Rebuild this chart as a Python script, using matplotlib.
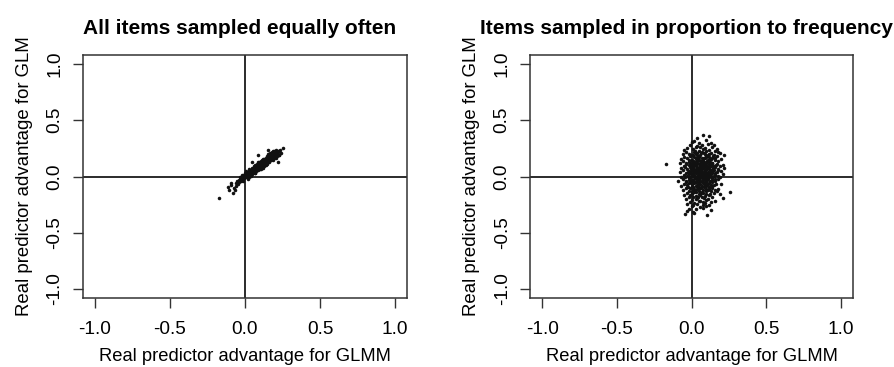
import matplotlib
matplotlib.use('Agg')
import matplotlib.pyplot as plt

plt.rcParams['font.family'] = ['Liberation Sans', 'DejaVu Sans']
plt.rcParams['axes.unicode_minus'] = False

titles = ["All items sampled equally often", "Items sampled in proportion to frequency"]
xlabel = "Real predictor advantage for GLMM"
ylabel = "Real predictor advantage for GLM"
tick_values = [-1.0, -0.5, 0.0, 0.5, 1.0]
tick_labels = ["-1.0", "-0.5", "0.0", "0.5", "1.0"]

# Panel 1: items sampled equally often (x = GLMM advantage, y = GLM advantage)
equal_points = [
    (-0.170, -0.188), (-0.112, -0.092), (-0.104, -0.118), (-0.082, -0.150), (-0.090, -0.071),
    (-0.075, -0.098), (-0.063, -0.055), (-0.058, -0.082), (-0.051, -0.040), (-0.046, -0.066),
    (-0.041, -0.031), (-0.037, -0.052), (-0.033, -0.018), (-0.029, -0.041), (-0.026, -0.012),
    (-0.022, -0.030), (-0.019, -0.005), (-0.016, -0.024), (-0.013, 0.004), (-0.011, -0.017),
    (-0.008, 0.010), (-0.006, -0.009), (-0.003, 0.015), (-0.001, -0.004), (0.002, 0.021),
    (0.004, 0.001), (0.006, 0.013), (0.008, -0.006), (0.010, 0.024), (0.012, 0.008),
    (0.014, 0.031), (0.016, 0.012), (0.018, 0.002), (0.020, 0.027), (0.022, 0.017),
    (0.024, 0.038), (0.026, 0.009), (0.028, 0.024), (0.030, 0.045), (0.032, 0.019),
    (0.034, 0.033), (0.036, 0.052), (0.038, 0.026), (0.040, 0.041), (0.042, 0.018),
    (0.044, 0.057), (0.046, 0.035), (0.048, 0.048), (0.050, 0.069), (0.052, 0.029),
    (0.054, 0.053), (0.056, 0.041), (0.058, 0.074), (0.060, 0.060), (0.062, 0.038),
    (0.064, 0.082), (0.066, 0.051), (0.068, 0.067), (0.070, 0.046), (0.072, 0.089),
    (0.074, 0.063), (0.076, 0.077), (0.078, 0.055), (0.080, 0.101), (0.082, 0.072),
    (0.084, 0.086), (0.086, 0.062), (0.088, 0.094), (0.090, 0.079), (0.092, 0.113),
    (0.094, 0.070), (0.096, 0.098), (0.098, 0.085), (0.100, 0.121), (0.102, 0.077),
    (0.104, 0.106), (0.106, 0.094), (0.108, 0.131), (0.110, 0.088), (0.112, 0.112),
    (0.114, 0.101), (0.116, 0.139), (0.118, 0.096), (0.120, 0.124), (0.122, 0.108),
    (0.124, 0.150), (0.126, 0.103), (0.128, 0.131), (0.130, 0.117), (0.132, 0.158),
    (0.134, 0.112), (0.136, 0.140), (0.138, 0.126), (0.140, 0.166), (0.142, 0.119),
    (0.144, 0.149), (0.146, 0.134), (0.148, 0.171), (0.150, 0.127), (0.152, 0.155),
    (0.154, 0.142), (0.156, 0.178), (0.158, 0.135), (0.160, 0.163), (0.162, 0.149),
    (0.164, 0.184), (0.166, 0.143), (0.168, 0.170), (0.170, 0.156), (0.172, 0.190),
    (0.174, 0.151), (0.176, 0.177), (0.178, 0.164), (0.180, 0.196), (0.182, 0.158),
    (0.184, 0.183), (0.186, 0.171), (0.188, 0.201), (0.190, 0.165), (0.192, 0.189),
    (0.194, 0.206), (0.196, 0.176), (0.198, 0.194), (0.200, 0.212), (0.203, 0.183),
    (0.206, 0.200), (0.209, 0.218), (0.212, 0.192), (0.215, 0.207), (0.218, 0.224),
    (0.222, 0.214), (0.226, 0.231), (0.232, 0.236), (0.255, 0.250),
    (0.005, 0.007), (0.015, 0.020), (0.025, 0.029), (0.035, 0.040), (0.045, 0.046),
    (0.055, 0.062), (0.065, 0.070), (0.075, 0.083), (0.085, 0.091), (0.095, 0.104),
    (0.105, 0.112), (0.115, 0.120), (0.125, 0.128), (0.135, 0.146), (0.145, 0.153),
    (0.155, 0.160), (0.165, 0.175), (0.175, 0.182), (0.185, 0.190), (0.195, 0.201),
    (0.205, 0.208),
    (0.050, 0.130), (0.090, 0.190), (0.155, 0.235), (0.220, 0.130), (0.210, 0.165),
    (0.120, 0.075), (-0.067, -0.120), (-0.095, -0.060), (0.185, 0.225), (0.240, 0.210),
    (0.030, 0.065), (0.070, 0.035), (0.060, 0.095), (0.100, 0.065), (0.090, 0.125),
    (0.130, 0.095), (0.120, 0.155), (0.160, 0.125), (0.150, 0.185), (0.190, 0.155),
    (0.180, 0.215), (0.215, 0.185), (0.000, 0.035), (0.040, 0.005), (0.020, -0.020),
    (-0.020, 0.010), (0.110, 0.140), (0.140, 0.105), (0.170, 0.200), (0.200, 0.170),
    (0.080, 0.110), (0.050, 0.020), (0.165, 0.195), (0.195, 0.225), (0.225, 0.195),
    (0.010, 0.045), (0.030, -0.005), (0.045, 0.080), (0.065, 0.030), (0.085, 0.115),
    (0.105, 0.070), (0.125, 0.160), (0.145, 0.110), (0.165, 0.205), (0.185, 0.150),
    (0.205, 0.235), (0.225, 0.190), (-0.030, 0.000), (-0.010, -0.040), (0.115, 0.150),
    (0.135, 0.100), (0.175, 0.210), (0.195, 0.165), (0.095, 0.130), (0.075, 0.045),
    (0.155, 0.200), (0.160, 0.135), (0.070, 0.100), (0.110, 0.085),
]

# Panel 2: items sampled in proportion to frequency
prop_points = [
    (0.080, 0.368), (0.120, 0.356), (0.035, 0.340),
    (0.020, 0.318), (0.100, 0.326), (0.050, 0.302), (0.130, 0.297), (0.000, 0.306),
    (-0.010, 0.284), (0.070, 0.277), (0.110, 0.289), (0.040, 0.272), (0.150, 0.281),
    (0.030, 0.262), (0.090, 0.255), (0.140, 0.266), (-0.030, 0.251), (0.060, 0.259), (0.170, 0.248),
    (-0.050, 0.236), (0.010, 0.243), (0.050, 0.231), (0.080, 0.245), (0.120, 0.238), (0.160, 0.229),
    (0.025, 0.227),
    (-0.040, 0.214), (0.020, 0.222), (0.040, 0.209), (0.070, 0.218), (0.100, 0.225), (0.130, 0.211),
    (0.180, 0.219), (0.085, 0.205),
    (-0.060, 0.196), (-0.020, 0.203), (0.010, 0.189), (0.030, 0.198), (0.060, 0.192), (0.090, 0.201),
    (0.110, 0.187), (0.150, 0.195), (0.190, 0.205), (0.045, 0.184),
    (-0.050, 0.176), (-0.010, 0.181), (0.020, 0.172), (0.050, 0.178), (0.070, 0.169), (0.100, 0.183),
    (0.120, 0.174), (0.140, 0.166), (0.170, 0.179), (0.220, 0.188), (0.085, 0.161),
    (-0.070, 0.156), (-0.030, 0.162), (0.000, 0.151), (0.030, 0.158), (0.050, 0.146), (0.080, 0.155),
    (0.090, 0.163), (0.110, 0.149), (0.130, 0.157), (0.160, 0.144), (0.200, 0.152), (0.065, 0.139),
    (-0.060, 0.137), (-0.020, 0.131), (0.010, 0.142), (0.020, 0.128), (0.040, 0.135), (0.060, 0.124),
    (0.080, 0.138), (0.100, 0.127), (0.120, 0.133), (0.140, 0.121), (0.180, 0.136), (0.095, 0.117),
    (0.035, 0.118),
    (-0.080, 0.116), (-0.040, 0.109), (-0.010, 0.121), (0.010, 0.113), (0.030, 0.104), (0.050, 0.115),
    (0.070, 0.107), (0.090, 0.119), (0.100, 0.102), (0.120, 0.111), (0.150, 0.098), (0.170, 0.114),
    (0.210, 0.106), (0.062, 0.096), (0.138, 0.120),
    (-0.170, 0.108), (-0.050, 0.093), (-0.020, 0.099), (0.000, 0.089), (0.020, 0.097), (0.040, 0.086),
    (0.060, 0.094), (0.080, 0.084), (0.090, 0.096), (0.110, 0.088), (0.130, 0.092), (0.160, 0.083),
    (0.190, 0.095), (0.072, 0.076), (0.103, 0.071), (0.118, 0.079),
    (-0.070, 0.077), (-0.030, 0.071), (-0.010, 0.082), (0.010, 0.074), (0.030, 0.066), (0.050, 0.079),
    (0.070, 0.063), (0.080, 0.072), (0.100, 0.065), (0.120, 0.074), (0.140, 0.061), (0.180, 0.068),
    (0.220, 0.078), (0.088, 0.056), (0.045, 0.058), (0.128, 0.052),
    (-0.060, 0.057), (-0.020, 0.051), (0.000, 0.062), (0.020, 0.054), (0.040, 0.046), (0.060, 0.055),
    (0.070, 0.043), (0.090, 0.050), (0.110, 0.041), (0.130, 0.049), (0.150, 0.056), (0.200, 0.045),
    (0.078, 0.034), (0.102, 0.031), (0.015, 0.037),
    (-0.080, 0.036), (-0.040, 0.031), (-0.010, 0.042), (0.010, 0.027), (0.030, 0.035), (0.050, 0.024),
    (0.060, 0.038), (0.080, 0.026), (0.100, 0.033), (0.120, 0.022), (0.140, 0.030), (0.170, 0.039),
    (0.092, 0.014), (0.058, 0.012), (0.115, 0.008),
    (-0.050, 0.016), (-0.020, 0.023), (0.000, 0.011), (0.020, 0.018), (0.040, 0.006), (0.050, 0.019),
    (0.070, 0.009), (0.090, 0.024), (0.110, 0.017), (0.130, 0.005), (0.160, 0.014), (0.210, 0.021),
    (0.068, -0.004), (0.125, 0.027),
    (-0.070, -0.004), (-0.030, 0.003), (-0.010, -0.008), (0.010, 0.002), (0.030, -0.011), (0.050, -0.002),
    (0.070, 0.007), (0.080, -0.009), (0.100, 0.000), (0.120, -0.006), (0.150, 0.004), (0.190, -0.003),
    (0.042, -0.019), (0.094, -0.017),
    (-0.060, -0.023), (-0.020, -0.017), (0.000, -0.028), (0.020, -0.021), (0.040, -0.031), (0.060, -0.015),
    (0.080, -0.026), (0.090, -0.034), (0.110, -0.022), (0.140, -0.029), (0.180, -0.018), (0.058, -0.038),
    (0.122, -0.041),
    (-0.090, -0.044), (-0.040, -0.037), (-0.010, -0.048), (0.010, -0.041), (0.030, -0.052), (0.050, -0.045),
    (0.070, -0.036), (0.100, -0.049), (0.120, -0.057), (0.160, -0.043), (0.085, -0.061),
    (-0.050, -0.064), (-0.020, -0.058), (0.000, -0.069), (0.020, -0.061), (0.040, -0.072), (0.060, -0.066),
    (0.080, -0.055), (0.110, -0.068), (0.130, -0.077), (0.200, -0.063), (0.095, -0.083),
    (-0.070, -0.084), (-0.030, -0.078), (0.010, -0.089), (0.030, -0.082), (0.050, -0.093), (0.070, -0.087),
    (0.090, -0.076), (0.120, -0.091), (0.150, -0.079), (0.065, -0.103),
    (-0.040, -0.104), (-0.010, -0.098), (0.020, -0.109), (0.040, -0.113), (0.060, -0.101), (0.080, -0.116),
    (0.100, -0.107), (0.140, -0.099), (0.180, -0.112),
    (-0.060, -0.124), (-0.020, -0.131), (0.010, -0.119), (0.030, -0.136), (0.050, -0.127), (0.070, -0.139),
    (0.110, -0.122), (0.130, -0.133), (0.170, -0.126),
    (-0.030, -0.144), (0.000, -0.152), (0.020, -0.141), (0.050, -0.156), (0.080, -0.147), (0.100, -0.158),
    (0.150, -0.143), (0.260, -0.140),
    (-0.050, -0.166), (-0.010, -0.161), (0.030, -0.172), (0.060, -0.164), (0.090, -0.177), (0.120, -0.168),
    (0.190, -0.159),
    (-0.020, -0.186), (0.010, -0.181), (0.040, -0.193), (0.070, -0.184), (0.110, -0.197), (0.140, -0.179),
    (0.210, -0.191),
    (-0.040, -0.204), (0.000, -0.211), (0.030, -0.199), (0.060, -0.216), (0.100, -0.207), (0.160, -0.214),
    (-0.010, -0.226), (0.020, -0.231), (0.050, -0.222), (0.090, -0.236), (0.130, -0.228),
    (-0.030, -0.247), (0.010, -0.253), (0.040, -0.241), (0.080, -0.256), (0.120, -0.249),
    (0.000, -0.266), (0.060, -0.272), (0.100, -0.262),
    (-0.020, -0.287), (0.030, -0.293), (0.080, -0.281),
    (-0.030, -0.305), (0.010, -0.312), (0.130, -0.301),
    (-0.045, -0.331), (0.020, -0.324), (0.105, -0.342),
    (0.005, 0.195), (0.065, 0.208), (0.115, 0.199), (0.035, 0.171), (0.095, 0.176), (0.145, 0.184),
    (-0.015, 0.147), (0.045, 0.153), (0.105, 0.141), (0.155, 0.162), (0.015, 0.131), (0.075, 0.127),
    (0.125, 0.146), (-0.035, 0.121), (0.025, 0.112), (0.085, 0.104), (0.135, 0.109), (0.005, 0.099),
    (0.055, 0.087), (0.115, 0.094), (0.165, 0.101), (-0.045, 0.083), (0.035, 0.078), (0.095, 0.083),
    (0.145, 0.076), (-0.005, 0.064), (0.065, 0.069), (0.125, 0.062), (0.175, 0.057), (0.025, 0.047),
    (0.085, 0.041), (0.135, 0.038), (-0.025, 0.036), (0.045, 0.029), (0.105, 0.021), (0.155, 0.028),
    (0.005, 0.013), (0.065, 0.017), (0.125, 0.012), (-0.045, -0.006), (0.025, -0.003), (0.085, 0.004),
    (0.135, -0.013), (0.175, 0.009), (-0.015, -0.029), (0.045, -0.024), (0.105, -0.031), (0.155, -0.022),
    (0.015, -0.047), (0.075, -0.052), (0.135, -0.046), (-0.035, -0.052), (0.045, -0.063), (0.105, -0.074),
    (0.165, -0.067), (0.005, -0.081), (0.085, -0.093), (0.135, -0.088), (-0.025, -0.096), (0.045, -0.104),
    (0.115, -0.112), (0.025, -0.121), (0.095, -0.131), (0.155, -0.118), (0.065, -0.149), (0.125, -0.151),
    (0.005, -0.138), (0.045, -0.178), (0.085, -0.194), (0.075, -0.229),
]

panels = [equal_points, prop_points]

fig = plt.figure(figsize=(8.94, 3.67), dpi=100)
positions = [[0.0928, 0.188, 0.3624, 0.662], [0.593, 0.188, 0.361, 0.662]]

for pos, title, pts in zip(positions, titles, panels):
    ax = fig.add_axes(pos)
    xs = [p[0] for p in pts]
    ys = [p[1] for p in pts]
    ax.axhline(0, color='#1a1a1a', lw=1.3, zorder=1)
    ax.axvline(0, color='#1a1a1a', lw=1.3, zorder=1)
    ax.plot(xs, ys, 'o', ms=2.55, mew=0, color='#111111', zorder=2)
    ax.set_xlim(-1.08, 1.08)
    ax.set_ylim(-1.08, 1.08)
    ax.set_xticks(tick_values)
    ax.set_xticklabels(tick_labels)
    ax.set_yticks(tick_values)
    ax.set_yticklabels(tick_labels, rotation=90, va='center')
    ax.tick_params(direction='out', length=7, width=1.0, labelsize=13.7, color='#333333')
    ax.tick_params(axis='x', pad=9.5)
    ax.tick_params(axis='y', pad=7)
    for s in ax.spines.values():
        s.set_linewidth(1.1)
        s.set_color('#333333')
    ax.set_title(title, fontsize=15.0, fontweight='bold', pad=15, x=0.483)
    ax.set_xlabel(xlabel, fontsize=13.2, labelpad=7)
    ax.set_ylabel(ylabel, fontsize=13.4, labelpad=10)

fig.savefig('out.png', dpi=100)
